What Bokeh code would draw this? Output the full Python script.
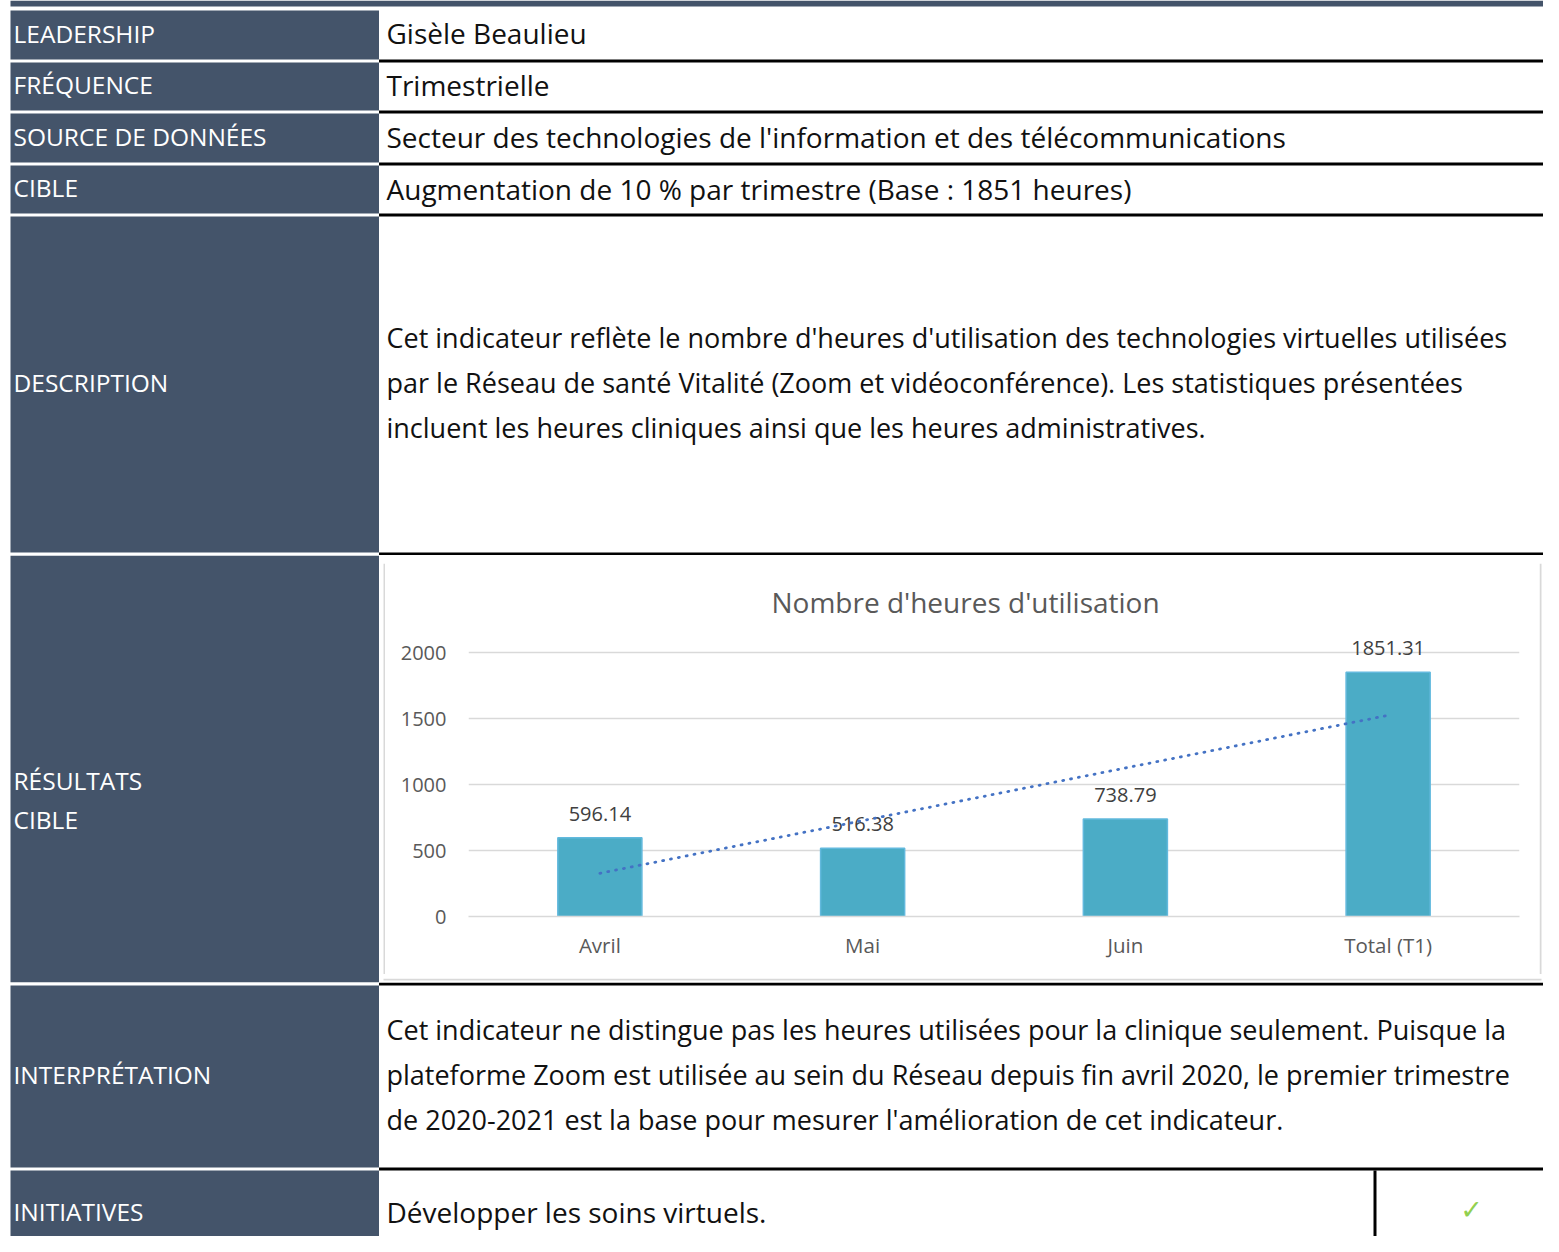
from bokeh.plotting import figure
from bokeh.models import Range1d, FactorRange, Title
from bokeh.layouts import column, row
from bokeh.core.properties import value
from bokeh.embed import file_html
from bokeh.resources import INLINE
import numpy as np

# ---------------- data ----------------
categories = ["Avril", "Mai", "Juin", "Total (T1)"]
hours = [596.14, 516.38, 738.79, 1851.31]
y_ticks = [0, 500, 1000, 1500, 2000]
chart_title = "Nombre d'heures d'utilisation"

row_labels = ["LEADERSHIP", "FRÉQUENCE", "SOURCE DE DONNÉES", "CIBLE", "DESCRIPTION",
              "RÉSULTATS\nCIBLE", "INTERPRÉTATION", "INITIATIVES"]
leadership = "Gisèle Beaulieu"
frequence = "Trimestrielle"
source = "Secteur des technologies de l'information et des télécommunications"
cible = "Augmentation de 10 % par trimestre (Base : 1851 heures)"
description_lines = [
    "Cet indicateur reflète le nombre d'heures d'utilisation des technologies virtuelles utilisées",
    "par le Réseau de santé Vitalité (Zoom et vidéoconférence). Les statistiques présentées",
    "incluent les heures cliniques ainsi que les heures administratives.",
]
interpretation_lines = [
    "Cet indicateur ne distingue pas les heures utilisées pour la clinique seulement. Puisque la",
    "plateforme Zoom est utilisée au sein du Réseau depuis fin avril 2020, le premier trimestre",
    "de 2020-2021 est la base pour mesurer l'amélioration de cet indicateur.",
]
initiative = "Développer les soins virtuels."
status_mark = "\u2713"

# ---------------- layout constants (pixels) ----------------
W, H = 1543, 1236
DARK = "#44546A"
BORDER = "#D9D9D9"
FONT = "Open Sans"
LEFT_X0, LEFT_X1, RIGHT_X1 = 10, 378.5, 1600
row_spans = [(10, 59), (62, 110), (113, 162), (165, 213), (216, 552),
             (555, 982), (985, 1167), (1170, 1300)]
line_spans = [(59, 62), (110, 113), (162, 165), (213, 216), (552, 555),
              (982, 985), (1167, 1170)]

left_texts = []  # (text, y)
for lab, (t, b) in zip(row_labels, row_spans):
    parts = lab.split("\n")
    if len(parts) == 1:
        left_texts.append((lab, min((t + b) / 2, 1213) - 2))
    else:
        left_texts.append((parts[0], (t + b) / 2 + 11))
        left_texts.append((parts[1], (t + b) / 2 + 50))

single_texts = [(leadership, 32), (frequence, 84), (source, 136), (cible, 188), (initiative, 1211)]
para_texts = []
for i, ln in enumerate(description_lines):
    para_texts.append((ln, 337 + 45 * i))
for i, ln in enumerate(interpretation_lines):
    para_texts.append((ln, 1029 + 45 * i))


def base_fig(x0, x1, y0, y1):
    p = figure(width=int(round(x1 - x0)), height=int(round(y1 - y0)),
               x_range=Range1d(x0, x1), y_range=Range1d(y1, y0),
               toolbar_location=None, output_backend="svg", frame_align=False,
               min_border=0, border_fill_color="white", background_fill_color="white")
    p.axis.visible = False
    p.grid.visible = False
    p.outline_line_color = None
    return p


def table_fig(x0, x1, y0, y1):
    p = base_fig(x0, x1, y0, y1)
    p.quad(left=[LEFT_X0], right=[RIGHT_X1], top=[0], bottom=[6], fill_color=DARK, line_color=None)
    p.quad(left=[LEFT_X0] * len(row_spans), right=[LEFT_X1] * len(row_spans),
           top=[t for t, b in row_spans], bottom=[b for t, b in row_spans],
           fill_color=DARK, line_color=None)
    p.quad(left=[LEFT_X1] * len(line_spans), right=[RIGHT_X1] * len(line_spans),
           top=[t for t, b in line_spans], bottom=[b for t, b in line_spans],
           fill_color="black", line_color=None)
    p.quad(left=[1373], right=[1376], top=[1170], bottom=[1300], fill_color="black", line_color=None)

    lt = [(s, y) for s, y in left_texts if y0 <= y <= y1 and x0 < LEFT_X1]
    if lt:
        p.text(x=[13] * len(lt), y=[y for s, y in lt], text=[s for s, y in lt],
               text_font=value(FONT), text_font_size="24.5px", text_color="white",
               text_baseline="middle", text_align="left")
    if x1 > 400:
        st = [(s, y) for s, y in single_texts if y0 <= y <= y1]
        if st:
            p.text(x=[386] * len(st), y=[y for s, y in st], text=[s for s, y in st],
                   text_font=value(FONT), text_font_size="28px", text_color="#111111",
                   text_baseline="middle", text_align="left")
        pt = [(s, y) for s, y in para_texts if y0 <= y <= y1]
        if pt:
            p.text(x=[386] * len(pt), y=[y for s, y in pt], text=[s for s, y in pt],
                   text_font=value(FONT), text_font_size="27px", text_color="#111111",
                   text_baseline="middle", text_align="left")
    if y0 <= 1210 <= y1 and x1 > 1400:
        p.text(x=[1471], y=[1209], text=[status_mark], text_font=value("DejaVu Sans"),
               text_font_size="27px", text_color="#92D050", text_baseline="middle",
               text_align="center")
    return p


def border_fig(x0, x1, y0, y1, bl, br, bt, bb):
    p = base_fig(x0, x1, y0, y1)
    p.quad(left=[bl], right=[br], top=[bt], bottom=[bb], fill_color=BORDER, line_color=None)
    return p


top = table_fig(0, W, 0, 555)
mid_left = table_fig(0, 379, 555, 982)
bottom = table_fig(0, W, 982, H)

# chart border pieces
CX0, CX1, CY0, CY1 = 385, 1539, 563, 974
gap_top = border_fig(379, W, 555, CY0, 383, 1541, 561, 563)
gap_bottom = border_fig(379, W, CY1, 982, 383, 1541, 974, 976)
gap_left = border_fig(379, CX0, CY0, CY1, 383, 385, CY0, CY1)
gap_right = border_fig(CX1, W, CY0, CY1, 1539, 1541, CY0, CY1)

# ---------------- chart ----------------
FR_L, FR_R, FR_T, FR_B = 468, 1519, 632, 916
PX_PER_UNIT = 0.132
c = figure(x_range=FactorRange(*categories),
           y_range=Range1d(0, (FR_B - FR_T) / PX_PER_UNIT),
           width=CX1 - CX0, height=CY1 - CY0, toolbar_location=None, output_backend="svg",
           frame_align=False,
           min_border_left=FR_L - CX0, min_border_right=CX1 - FR_R,
           min_border_top=FR_T - CY0, min_border_bottom=CY1 - FR_B,
           background_fill_color="white", border_fill_color="white")
c.outline_line_color = None
c.xgrid.visible = False
c.ygrid.grid_line_color = BORDER
c.ygrid.grid_line_width = 1.3
c.yaxis.ticker = y_ticks
c.yaxis.axis_line_color = None
c.yaxis.major_tick_line_color = None
c.yaxis.major_tick_out = 0
c.yaxis.minor_tick_line_color = None
c.yaxis.major_label_standoff = 22
c.yaxis.major_label_text_font = FONT
c.yaxis.major_label_text_font_size = "20px"
c.yaxis.major_label_text_color = "#595959"
c.xaxis.axis_line_color = BORDER
c.xaxis.axis_line_width = 1.3
c.xaxis.major_tick_line_color = None
c.xaxis.major_tick_out = 0
c.xaxis.minor_tick_line_color = None
c.xaxis.major_label_standoff = 14
c.xaxis.major_label_text_font = FONT
c.xaxis.major_label_text_font_size = "20.5px"
c.xaxis.major_label_text_color = "#595959"

c.vbar(x=categories, top=hours, width=0.32, fill_color="#4BACC6",
       line_color="#62B9DD", line_width=1.5)
c.text(x=categories, y=hours, text=[f"{v:.2f}" for v in hours], y_offset=-24,
       text_font=value(FONT), text_font_size="20px", text_color="#404040",
       text_align="center", text_baseline="middle")

idx = np.arange(len(hours))
slope, intercept = np.polyfit(idx, hours, 1)
c.line(x=[categories[0], categories[-1]], y=[intercept, intercept + slope * idx[-1]],
       line_color="#4472C4", line_width=2.8, line_dash="1 7", line_cap="round")

c.add_layout(Title(text=chart_title, align="left", offset=771 - FR_L, standoff=24,
                   text_font=FONT, text_font_size="28px", text_color="#595959",
                   text_font_style="normal"), "above")

cell = column(gap_top, row(gap_left, c, gap_right), gap_bottom)
layout = column(top, row(mid_left, cell), bottom)
open("out.html", "w").write(file_html(layout, INLINE))
